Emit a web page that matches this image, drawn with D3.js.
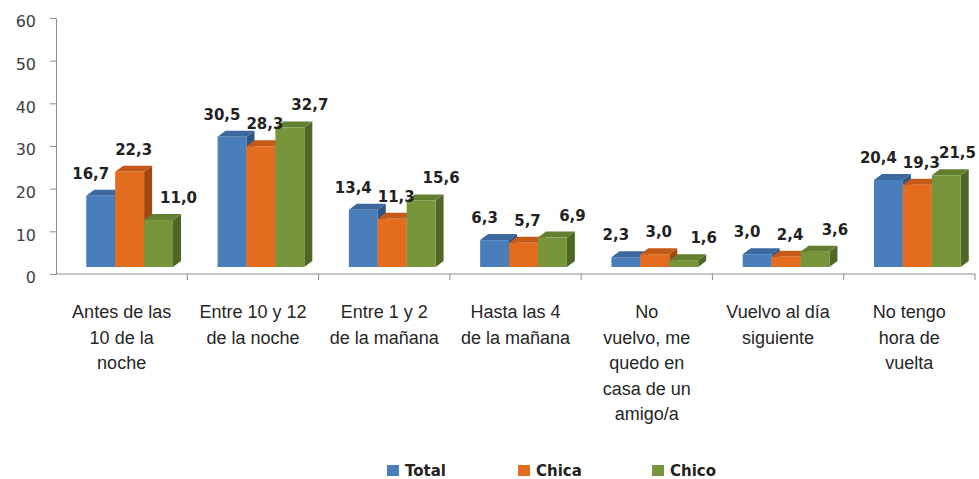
<!DOCTYPE html>
<html>
<head>
<meta charset="utf-8">
<script src="https://cdn.jsdelivr.net/npm/d3@7"></script>
<style>
  html, body { margin: 0; padding: 0; background: #fff; }
  svg { display: block; }
  .ytick text { font-family: "DejaVu Sans", Verdana, sans-serif; font-size: 16px; fill: #404040; }
  .cat-label { font-family: "Liberation Sans", Arial, sans-serif; font-size: 18px; fill: #262626; }
  .val-label { font-family: "DejaVu Sans", Verdana, sans-serif; font-size: 15px; font-weight: bold; fill: #222; }
  .legend text { font-family: "DejaVu Sans", Verdana, sans-serif; font-size: 15px; font-weight: bold; fill: #222; }
</style>
</head>
<body>
<svg id="chart" width="979" height="479"></svg>
<script>
// --- data ---
const categories = [
  ["Antes de las", "10 de la", "noche"],
  ["Entre 10 y 12", "de la noche"],
  ["Entre 1 y 2", "de la mañana"],
  ["Hasta las 4", "de la mañana"],
  ["No", "vuelvo, me", "quedo en", "casa de un", "amigo/a"],
  ["Vuelvo al día", "siguiente"],
  ["No tengo", "hora de", "vuelta"],
];
const seriesNames = ["Total", "Chica", "Chico"];
const totalValues = [16.7, 30.5, 13.4, 6.3, 2.3, 3.0, 20.4];
const chicaValues = [22.3, 28.3, 11.3, 5.7, 3.0, 2.4, 19.3];
const chicoValues = [11.0, 32.7, 15.6, 6.9, 1.6, 3.6, 21.5];
const yTicks = [0, 10, 20, 30, 40, 50, 60];

const seriesValues = [totalValues, chicaValues, chicoValues];
const catKeys = categories.map((c) => c.join(" "));

// colours: front, top, side
const colors = {
  Total: ["#4a7ebb", "#3c68a0", "#2f5486"],
  Chica: ["#e46c1f", "#c45a18", "#a24912"],
  Chico: ["#77953b", "#637f30", "#4e6725"],
};

const fmt = d3.formatLocale({ decimal: ",", thousands: ".", grouping: [3], currency: ["", "€"] }).format(".1f");

const svg = d3.select("#chart");

const x = d3.scaleBand().domain(catKeys).range([56, 975]).padding(0);
const xs = d3.scaleBand().domain(seriesNames).range([0, x.bandwidth()]).paddingInner(0).paddingOuter(0.77);
const y = d3.scaleLinear().domain([0, 60]).range([274, 18]);

// 3D look: front face shifted from the floor edge, depth going up-right
const shiftX = 8, shiftY = -7;
const depthX = 8, depthY = -6;

// y axis
const yAxis = svg.append("g")
  .attr("class", "ytick")
  .attr("transform", "translate(56,0)")
  .call(d3.axisLeft(y).tickValues(yTicks).tickSize(6).tickSizeOuter(0).tickPadding(14));
yAxis.select(".domain").attr("stroke", "#8c8c8c");
yAxis.selectAll(".tick line").attr("stroke", "#8c8c8c");
yAxis.selectAll(".tick text").attr("dy", "0.55em");

// x axis line and category boundary ticks
const xAxis = svg.append("g").attr("stroke", "#8c8c8c");
xAxis.append("line").attr("x1", 56).attr("x2", 975).attr("y1", y(0)).attr("y2", y(0));
const bounds = catKeys.map((k) => x(k)).concat([x.range()[1]]);
xAxis.selectAll(".xt").data(bounds.slice(1)).join("line")
  .attr("x1", (d) => d).attr("x2", (d) => d)
  .attr("y1", y(0)).attr("y2", y(0) + 6);

// bars
const bars = svg.append("g");
const rows = [];
catKeys.forEach((k, i) => {
  seriesNames.forEach((s, j) => {
    rows.push({ cat: k, series: s, value: seriesValues[j][i] });
  });
});

rows.forEach((d) => {
  const x0 = x(d.cat) + xs(d.series) + shiftX;
  const x1 = x0 + xs.bandwidth();
  const yt = y(d.value) + shiftY;
  const yb = y(0) + shiftY;
  const [cf, ct, cs] = colors[d.series];
  const g = bars.append("g");
  g.append("polygon")
    .attr("points", [[x1, yt], [x1 + depthX, yt + depthY], [x1 + depthX, yb + depthY], [x1, yb]].join(" "))
    .attr("fill", cs);
  g.append("polygon")
    .attr("points", [[x0, yt], [x0 + depthX, yt + depthY], [x1 + depthX, yt + depthY], [x1, yt]].join(" "))
    .attr("fill", ct);
  g.append("rect")
    .attr("x", x0).attr("y", yt)
    .attr("width", xs.bandwidth()).attr("height", yb - yt)
    .attr("fill", cf);
});

// value labels (kept inside the right edge)
const labelShift = { Total: -10, Chica: 4, Chico: 20 };
svg.append("g").selectAll("text").data(rows).join("text")
  .attr("class", "val-label")
  .attr("text-anchor", "middle")
  .attr("y", (d) => y(d.value) - 24)
  .text((d) => fmt(d.value))
  .attr("x", function (d) {
    const cx = x(d.cat) + xs(d.series) + shiftX + xs.bandwidth() / 2 + labelShift[d.series];
    const half = this.getComputedTextLength() / 2;
    return Math.min(cx, 976 - half);
  });

// category labels
const catG = svg.append("g");
categories.forEach((lines, i) => {
  const t = catG.append("text")
    .attr("class", "cat-label")
    .attr("text-anchor", "middle")
    .attr("x", x(catKeys[i]) + x.bandwidth() / 2)
    .attr("y", 318);
  lines.forEach((ln, li) => {
    t.append("tspan")
      .attr("x", x(catKeys[i]) + x.bandwidth() / 2)
      .attr("dy", li === 0 ? 0 : 25.5)
      .text(ln);
  });
});

// legend
const legendX = [387, 518, 652];
const legend = svg.append("g").attr("class", "legend");
seriesNames.forEach((s, i) => {
  const g = legend.append("g").attr("transform", `translate(${legendX[i]},0)`);
  g.append("rect").attr("x", 0).attr("y", 465).attr("width", 12).attr("height", 11).attr("fill", colors[s][0]);
  g.append("text").attr("x", 18).attr("y", 476).text(s);
});
</script>
</body>
</html>
